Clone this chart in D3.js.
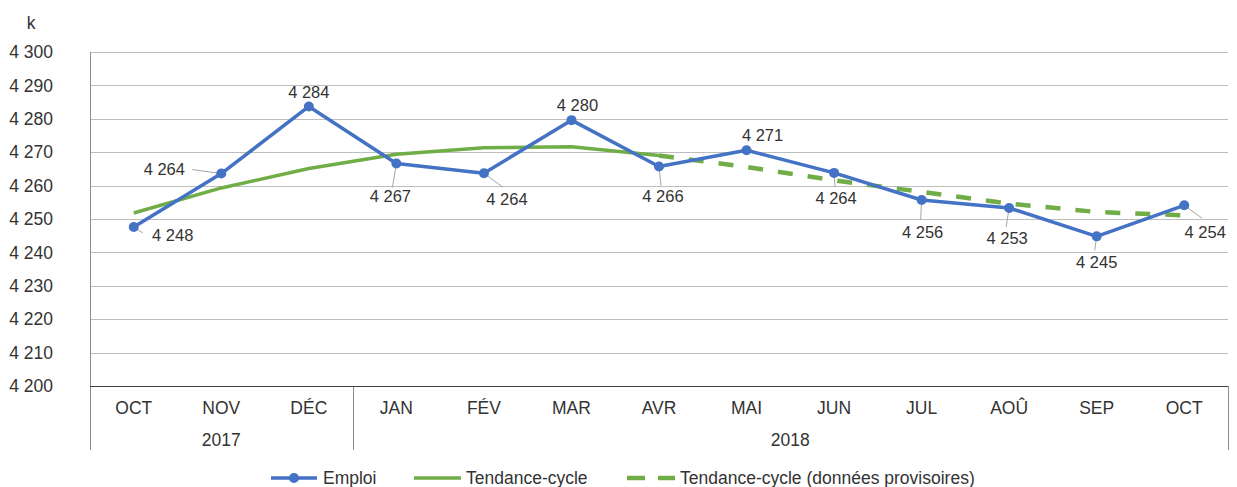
<!DOCTYPE html>
<html>
<head>
<meta charset="utf-8">
<title>Emploi</title>
<script src="https://cdn.jsdelivr.net/npm/d3@7"></script>
<style>
  body { margin: 0; background: #fff; }
  svg { display: block; font-family: "Liberation Sans", Arial, sans-serif; }
</style>
</head>
<body>
<script>
// data
var months = ["OCT", "NOV", "DÉC", "JAN", "FÉV", "MAR", "AVR", "MAI", "JUN", "JUL", "AOÛ", "SEP", "OCT"];
var years = ["2017", "2018"];
var yearStart = [0, 3]; // index of first month of each year
var yTicks = [4200, 4210, 4220, 4230, 4240, 4250, 4260, 4270, 4280, 4290, 4300];
var emploi = [4247.6, 4263.6, 4283.7, 4266.6, 4263.7, 4279.6, 4265.7, 4270.6, 4263.8, 4255.7, 4253.3, 4244.8, 4254.1];
var tendance = [4251.8, 4259.3, 4265.1, 4269.4, 4271.3, 4271.6, 4269.0, null, null, null, null, null, null];
var tendanceProv = [null, null, null, null, null, null, 4269.0, 4265.6, 4261.6, 4258.1, 4254.6, 4252.1, 4251.1];

// where each value label sits relative to its point (dx, dy) and leader end (lx, ly) if any
var labelLayout = [
  {dx: 39, dy: 8, lx: 9, ly: 6},
  {dx: -57, dy: -4, lx: -29, ly: -4},
  {dx: 0, dy: -14},
  {dx: -6, dy: 33, lx: -4, ly: 24},
  {dx: 23, dy: 26, lx: 19, ly: 14},
  {dx: 6, dy: -15},
  {dx: 4, dy: 30, lx: 2, ly: 19},
  {dx: 16, dy: -15},
  {dx: 2, dy: 25.5, lx: 1, ly: 14},
  {dx: 1, dy: 32, lx: -1, ly: 20},
  {dx: -2, dy: 30.5, lx: -3, ly: 19},
  {dx: 0, dy: 26, lx: -2, ly: 14},
  {dx: 21, dy: 27, lx: 18, ly: 13}
];

var width = 1237, height = 487;
var pLeft = 90, pRight = 1228, pTop = 52, pBottom = 386;
var blue = "#4472c4", green = "#70ad47", txtColor = "#333";

var fr = d3.formatLocale({decimal: ",", thousands: " ", grouping: [3], currency: ["", " $"]});
var fmt = fr.format(",.0f");

var svg = d3.select("body").append("svg")
  .attr("width", width)
  .attr("height", height);

var x = d3.scaleBand().domain(d3.range(months.length)).range([pLeft, pRight]);
var y = d3.scaleLinear().domain([4200, 4300]).range([pBottom, pTop]);
var cx = function(i) { return x(i) + x.bandwidth() / 2; };

// gridlines
svg.append("g").selectAll("line")
  .data(yTicks.slice(1))
  .enter().append("line")
  .attr("x1", pLeft).attr("x2", pRight)
  .attr("y1", function(d) { return Math.round(y(d)) + 0.5; })
  .attr("y2", function(d) { return Math.round(y(d)) + 0.5; })
  .attr("stroke", "#bdbdbd").attr("stroke-width", 1);

// y labels
svg.append("g").selectAll("text")
  .data(yTicks)
  .enter().append("text")
  .attr("x", 53)
  .attr("y", function(d) { return y(d); })
  .attr("dy", "0.35em")
  .attr("text-anchor", "end")
  .attr("font-size", "17.5px")
  .attr("fill", txtColor)
  .text(function(d) { return fmt(d); });

svg.append("text")
  .attr("x", 31).attr("y", 23).attr("dy", "0.35em")
  .attr("text-anchor", "middle")
  .attr("font-size", "17.5px").attr("fill", txtColor)
  .text("k");

// left axis line + year separators
svg.append("line")
  .attr("x1", pLeft + 0.5).attr("x2", pLeft + 0.5)
  .attr("y1", pTop).attr("y2", 450)
  .attr("stroke", "#8c8c8c");
var seps = yearStart.slice(1).map(function(i) { return x(i); }).concat([pRight]);
svg.append("g").selectAll("line")
  .data(seps)
  .enter().append("line")
  .attr("x1", function(d) { return Math.round(d) + 0.5; })
  .attr("x2", function(d) { return Math.round(d) + 0.5; })
  .attr("y1", pBottom).attr("y2", 450)
  .attr("stroke", "#8c8c8c");
svg.append("line")
  .attr("x1", pLeft).attr("x2", pRight)
  .attr("y1", pBottom + 0.5).attr("y2", pBottom + 0.5)
  .attr("stroke", "#404040");

// month + year labels
svg.append("g").selectAll("text")
  .data(months)
  .enter().append("text")
  .attr("x", function(d, i) { return cx(i); })
  .attr("y", 408).attr("dy", "0.35em")
  .attr("text-anchor", "middle")
  .attr("font-size", "17.5px").attr("fill", txtColor)
  .text(function(d) { return d; });

svg.append("g").selectAll("text")
  .data(years)
  .enter().append("text")
  .attr("x", function(d, i) {
    var a = x(yearStart[i]);
    var b = i + 1 < yearStart.length ? x(yearStart[i + 1]) : pRight;
    return (a + b) / 2;
  })
  .attr("y", 440).attr("dy", "0.35em")
  .attr("text-anchor", "middle")
  .attr("font-size", "17.5px").attr("fill", txtColor)
  .text(function(d) { return d; });

// lines
var line = d3.line()
  .defined(function(d) { return d != null; })
  .x(function(d, i) { return cx(i); })
  .y(function(d) { return y(d); });

svg.append("path").datum(tendance)
  .attr("d", line).attr("fill", "none")
  .attr("stroke", green).attr("stroke-width", 3.5)
  .attr("stroke-linejoin", "round");

svg.append("path").datum(tendanceProv)
  .attr("d", line).attr("fill", "none")
  .attr("stroke", green).attr("stroke-width", 4.5)
  .attr("stroke-dasharray", "15,15");

// leader lines
svg.append("g").selectAll("line")
  .data(emploi.map(function(v, i) { return {v: v, i: i, l: labelLayout[i]}; })
    .filter(function(d) { return d.l.lx != null; }))
  .enter().append("line")
  .attr("x1", function(d) { return cx(d.i); })
  .attr("y1", function(d) { return y(d.v); })
  .attr("x2", function(d) { return cx(d.i) + d.l.lx; })
  .attr("y2", function(d) { return y(d.v) + d.l.ly; })
  .attr("stroke", "#a6a6a6").attr("stroke-width", 1);

svg.append("path").datum(emploi)
  .attr("d", line).attr("fill", "none")
  .attr("stroke", blue).attr("stroke-width", 3.5)
  .attr("stroke-linejoin", "round");

svg.append("g").selectAll("circle")
  .data(emploi)
  .enter().append("circle")
  .attr("cx", function(d, i) { return cx(i); })
  .attr("cy", function(d) { return y(d); })
  .attr("r", 5)
  .attr("fill", blue);

// value labels
svg.append("g").selectAll("text")
  .data(emploi)
  .enter().append("text")
  .attr("x", function(d, i) { return cx(i) + labelLayout[i].dx; })
  .attr("y", function(d, i) { return y(d) + labelLayout[i].dy; })
  .attr("dy", "0.35em")
  .attr("text-anchor", "middle")
  .attr("font-size", "16.5px").attr("fill", txtColor)
  .text(function(d) { return fmt(d); });

// legend
var legendY = 478;
var lg = svg.append("g");
lg.append("line").attr("x1", 271).attr("x2", 317).attr("y1", legendY).attr("y2", legendY)
  .attr("stroke", blue).attr("stroke-width", 3.5);
lg.append("circle").attr("cx", 294).attr("cy", legendY).attr("r", 5).attr("fill", blue);
lg.append("text").attr("x", 323).attr("y", legendY).attr("dy", "0.35em")
  .attr("font-size", "17.5px").attr("fill", txtColor).text("Emploi");

lg.append("line").attr("x1", 414).attr("x2", 461).attr("y1", legendY).attr("y2", legendY)
  .attr("stroke", green).attr("stroke-width", 3.5);
lg.append("text").attr("x", 466).attr("y", legendY).attr("dy", "0.35em")
  .attr("font-size", "17.5px").attr("fill", txtColor).text("Tendance-cycle");

lg.append("line").attr("x1", 627).attr("x2", 675).attr("y1", legendY).attr("y2", legendY)
  .attr("stroke", green).attr("stroke-width", 4.5).attr("stroke-dasharray", "18,13");
lg.append("text").attr("x", 680).attr("y", legendY).attr("dy", "0.35em")
  .attr("font-size", "17.5px").attr("fill", txtColor).text("Tendance-cycle (données provisoires)");
</script>
</body>
</html>
